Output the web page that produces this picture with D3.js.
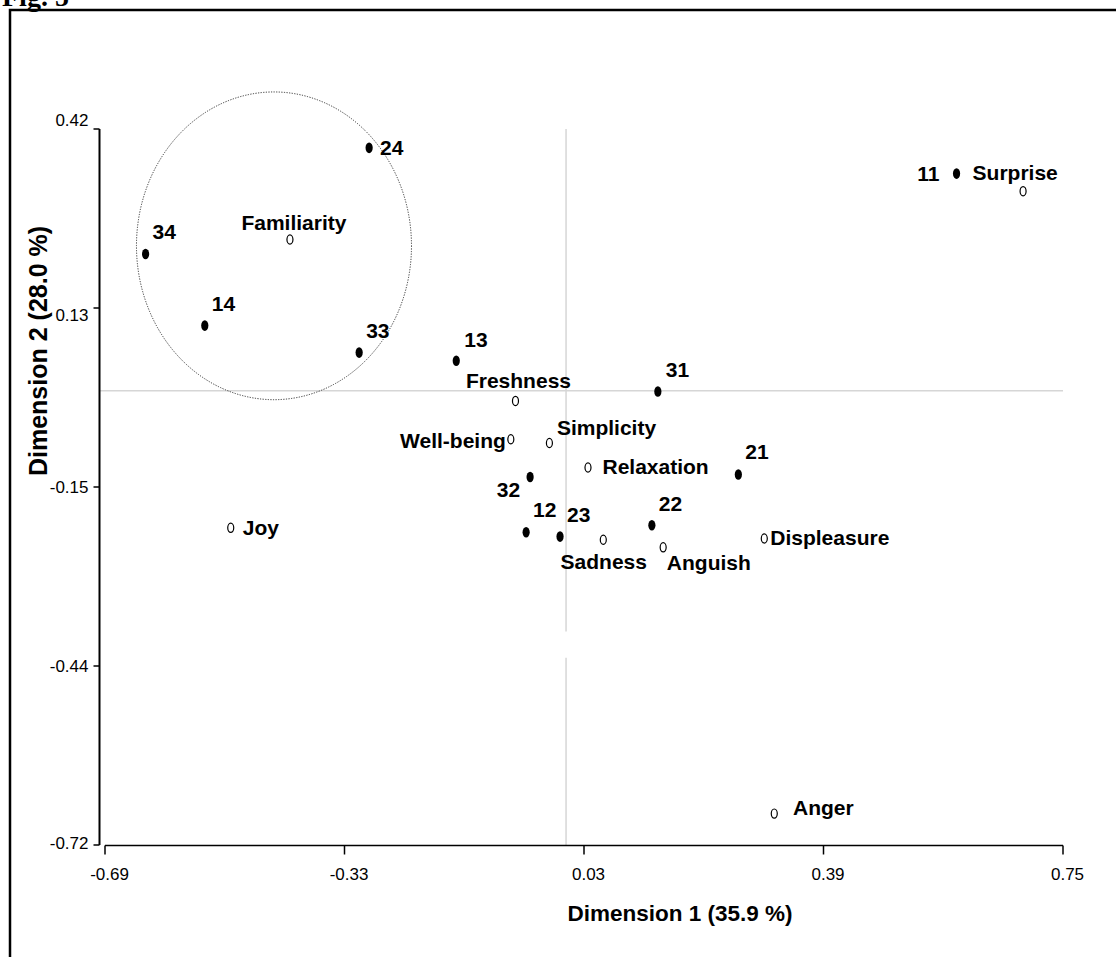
<!DOCTYPE html>
<html>
<head>
<meta charset="utf-8">
<script src="https://cdn.jsdelivr.net/npm/d3@7"></script>
<style>
  html, body { margin: 0; padding: 0; background: #fff; }
  svg { display: block; }
  text { font-family: "Liberation Sans", Arial, sans-serif; }
</style>
</head>
<body>
<svg id="chart" width="1116" height="957"></svg>
<script>
// ---------- DATA ----------
const productLabels = ["11","12","13","14","21","22","23","24","31","32","33","34"];
const productDim1   = [0.590,-0.057,-0.162,-0.540,0.262,0.132,-0.006,-0.293,0.141,-0.051,-0.308,-0.629];
const productDim2   = [0.349,-0.222,0.051,0.107,-0.130,-0.211,-0.229,0.390,0.002,-0.134,0.064,0.221];

const attributeLabels = ["Familiarity","Surprise","Freshness","Well-being","Simplicity","Relaxation","Joy","Sadness","Anguish","Displeasure","Anger"];
const attributeDim1   = [-0.412,0.690,-0.073,-0.080,-0.022,0.036,-0.501,0.059,0.149,0.301,0.316];
const attributeDim2   = [0.244,0.321,-0.013,-0.074,-0.080,-0.119,-0.215,-0.234,-0.246,-0.232,-0.670];

const xTickValues = [-0.69,-0.33,0.03,0.39,0.75];
const xTickLabels = ["-0.69","-0.33","0.03","0.39","0.75"];
const yTickValues = [0.42,0.135,-0.15,-0.435,-0.72];
const yTickLabels = ["0.42","0.13","-0.15","-0.44","-0.72"];

// group ellipse (centre and radii in data units)
const groupCenter = [-0.436, 0.234];
const groupRadii  = [0.2067, 0.245];

const xTitle = "Dimension 1 (35.9 %)";
const yTitle = "Dimension 2 (28.0 %)";
const figLabel = "Fig. 5";

// ---------- LAYOUT ----------
const X0 = 105, X1 = 1063, Y0 = 129, Y1 = 845;
const x = d3.scaleLinear().domain([-0.69, 0.75]).range([X0, X1]);
const y = d3.scaleLinear().domain([0.42, -0.72]).range([Y0, Y1]);

// label placement (pixel offsets from the marker, anchor)
const labelPlace = {
  "11": [-17, 7.5, "end"], "12": [7, -15.5, "start"], "13": [8, -14, "start"],
  "14": [7, -14.5, "start"], "21": [7, -15, "start"], "22": [7, -14.5, "start"],
  "23": [7, -15, "start"], "24": [11, 7.5, "start"], "31": [8, -14.5, "start"],
  "32": [-10, 20, "end"], "33": [7, -15, "start"], "34": [7, -15, "start"],
  "Familiarity": [4, -10, "middle"], "Surprise": [-50.5, -11, "start"],
  "Freshness": [3, -13.3, "middle"], "Well-being": [-5, 8.3, "end"],
  "Simplicity": [7.5, -7.7, "start"], "Relaxation": [14.5, 6, "start"],
  "Joy": [12, 7, "start"], "Sadness": [0.5, 29.3, "middle"],
  "Anguish": [3.7, 22.7, "start"], "Displeasure": [6, 6, "start"],
  "Anger": [18.7, 1.7, "start"]
};
const yLabelDy = [-9, 7, 0, 0, -2];

const svg = d3.select("#chart");

// figure label (cropped at top, as in the source)
svg.append("text").attr("x", 2).attr("y", 6)
  .style("font-family", "'Liberation Serif', 'Times New Roman', serif")
  .style("font-weight", "bold").style("font-size", "28px")
  .text(figLabel);

// frame (left and top only visible)
svg.append("path")
  .attr("d", d3.line()([[10, 957], [10, 10], [1116, 10]]))
  .attr("fill", "none").attr("stroke", "#000").attr("stroke-width", 2.5);

// reference lines at 0
svg.append("line")
  .attr("x1", 100).attr("x2", X1).attr("y1", y(0) - 2).attr("y2", y(0) - 2)
  .attr("stroke", "#d6d6d6").attr("stroke-width", 1.5);
const vSegs = [[0.42, -0.38], [-0.422, -0.72]];
svg.selectAll("line.vref").data(vSegs).join("line").attr("class", "vref")
  .attr("x1", x(0) + 2).attr("x2", x(0) + 2)
  .attr("y1", d => y(d[0])).attr("y2", d => y(d[1]))
  .attr("stroke", "#d6d6d6").attr("stroke-width", 1.5);

// Y axis
const yAxisG = svg.append("g").attr("transform", "translate(99.5,0)");
yAxisG.append("line").attr("x1", 0).attr("x2", 0).attr("y1", Y0).attr("y2", Y1)
  .attr("stroke", "#000").attr("stroke-width", 2);
yAxisG.selectAll("line.tk").data(yTickValues).join("line").attr("class", "tk")
  .attr("x1", -6).attr("x2", 0).attr("y1", d => y(d)).attr("y2", d => y(d))
  .attr("stroke", "#000").attr("stroke-width", 1.5);
yAxisG.selectAll("text.tl").data(yTickValues).join("text").attr("class", "tl")
  .attr("x", -11).attr("y", (d, i) => y(d) + yLabelDy[i])
  .attr("dy", "0.35em").attr("text-anchor", "end")
  .style("font-size", "17px").text((d, i) => yTickLabels[i]);

// X axis
const xAxisG = svg.append("g").attr("transform", `translate(0,${Y1 + 0.5})`);
xAxisG.append("line").attr("x1", X0).attr("x2", X1).attr("y1", 0).attr("y2", 0)
  .attr("stroke", "#000").attr("stroke-width", 1.5);
xAxisG.selectAll("line.tk").data(xTickValues).join("line").attr("class", "tk")
  .attr("x1", d => x(d)).attr("x2", d => x(d)).attr("y1", 0).attr("y2", 9)
  .attr("stroke", "#000").attr("stroke-width", 1.5);
xAxisG.selectAll("text.tl").data(xTickValues).join("text").attr("class", "tl")
  .attr("x", d => x(d) + 4.5).attr("y", 34)
  .attr("text-anchor", "middle")
  .style("font-size", "17px").text((d, i) => xTickLabels[i]);

// axis titles
svg.append("text").attr("x", 680).attr("y", 921).attr("text-anchor", "middle")
  .style("font-weight", "bold").style("font-size", "22.5px").text(xTitle);
svg.append("text").attr("transform", "translate(47,351) rotate(-90)")
  .attr("text-anchor", "middle")
  .style("font-weight", "bold").style("font-size", "25px").text(yTitle);

// group ellipse
svg.append("ellipse")
  .attr("cx", x(groupCenter[0])).attr("cy", y(groupCenter[1]))
  .attr("rx", x(groupCenter[0] + groupRadii[0]) - x(groupCenter[0]))
  .attr("ry", y(groupCenter[1] - groupRadii[1]) - y(groupCenter[1]))
  .attr("fill", "none").attr("stroke", "#333").attr("stroke-width", 1)
  .attr("stroke-dasharray", "1.2,1.4");

// data
const products = productLabels.map((l, i) => ({ label: l, d1: productDim1[i], d2: productDim2[i] }));
const attributes = attributeLabels.map((l, i) => ({ label: l, d1: attributeDim1[i], d2: attributeDim2[i] }));

svg.selectAll("ellipse.attr").data(attributes).join("ellipse").attr("class", "attr")
  .attr("cx", d => x(d.d1)).attr("cy", d => y(d.d2))
  .attr("rx", 3).attr("ry", 4.6)
  .attr("fill", "#fff").attr("stroke", "#000").attr("stroke-width", 1.2);

svg.selectAll("ellipse.prod").data(products).join("ellipse").attr("class", "prod")
  .attr("cx", d => x(d.d1)).attr("cy", d => y(d.d2))
  .attr("rx", 3.6).attr("ry", 5.3).attr("fill", "#000");

const allPts = products.concat(attributes);
svg.selectAll("text.lbl").data(allPts).join("text").attr("class", "lbl")
  .attr("x", d => x(d.d1) + labelPlace[d.label][0])
  .attr("y", d => y(d.d2) + labelPlace[d.label][1])
  .attr("text-anchor", d => labelPlace[d.label][2])
  .style("font-weight", "bold").style("font-size", "21px")
  .text(d => d.label);
</script>
</body>
</html>
